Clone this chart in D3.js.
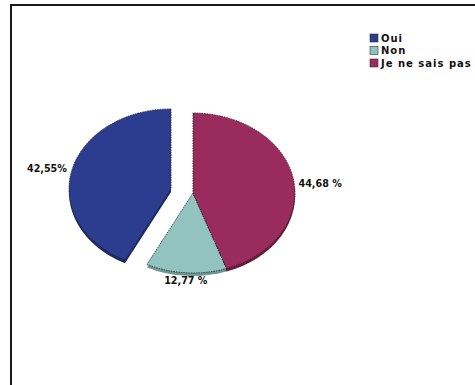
<!DOCTYPE html>
<html>
<head>
<meta charset="utf-8">
<script src="https://cdn.jsdelivr.net/npm/d3@7/dist/d3.min.js"></script>
<style>
  html, body { margin: 0; padding: 0; background: #fff; }
  svg { display: block; }
  text { font-family: "DejaVu Sans", sans-serif; font-weight: bold; fill: #111; }
</style>
</head>
<body>
<svg id="chart" width="475" height="385"></svg>
<script>
// Answers and their shares (percent)
const categories = ["Oui", "Non", "Je ne sais pas"];
const shares = [42.55, 12.77, 44.68];
const labels = ["42,55%", "12,77 %", "44,68 %"];
const colors = ["#2c3d8f", "#93c3be", "#9a2b5d"];
const sideColors = ["#1d2a66", "#6c9894", "#6a1b40"];

const svg = d3.select("#chart");

// Frame
svg.append("rect")
  .attr("x", 11).attr("y", 5)
  .attr("width", 480).attr("height", 400)
  .attr("fill", "none")
  .attr("stroke", "#1a1a1a")
  .attr("stroke-width", 2);

// Pie geometry: a circle of radius R squashed vertically into an ellipse
const cx = 193, cy = 193, R = 102, squash = 80 / 102, depth = 3;
const explode = { "Oui": 22.6 };

const pie = d3.pie().sort(null).value(d => d.v).startAngle(0).endAngle(-2 * Math.PI);
const arcs = pie(categories.map((c, i) => ({ c, v: shares[i], i })));
const arc = d3.arc().innerRadius(0).outerRadius(R);

function offset(a) {
  const mid = (a.startAngle + a.endAngle) / 2;
  const d = explode[a.data.c] || 0;
  return [Math.sin(mid) * d, -Math.cos(mid) * d];
}

const pieG = svg.append("g")
  .attr("transform", `translate(${cx},${cy}) scale(1,${squash})`);

// Slight thickness under the pie
arcs.forEach(a => {
  const [ox, oy] = offset(a);
  pieG.append("path")
    .attr("d", arc(a))
    .attr("transform", `translate(${ox},${oy + depth / squash})`)
    .attr("fill", sideColors[a.data.i]);
});

// Top faces
arcs.forEach(a => {
  const [ox, oy] = offset(a);
  pieG.append("path")
    .attr("d", arc(a))
    .attr("transform", `translate(${ox},${oy})`)
    .attr("fill", colors[a.data.i])
    .attr("stroke", "#222")
    .attr("stroke-width", 0.8)
    .attr("stroke-dasharray", "1.5,1")
    .attr("vector-effect", "non-scaling-stroke");
});

// Value labels placed just outside each slice
const labelR = 107;
arcs.forEach(a => {
  const [ox, oy] = offset(a);
  const mid = (a.startAngle + a.endAngle) / 2;
  const sx = Math.sin(mid), sy = -Math.cos(mid);
  const x = cx + ox + sx * labelR;
  let y = cy + (oy + sy * labelR) * squash;
  const anchor = Math.abs(sx) < 0.3 ? "middle" : (sx < 0 ? "end" : "start");
  if (anchor === "middle") y += depth + 1;
  if (anchor === "start") y += 5;
  svg.append("text")
    .attr("x", x).attr("y", y)
    .attr("text-anchor", anchor)
    .attr("dominant-baseline", "middle")
    .attr("font-size", "9.6px")
    .text(labels[a.data.i]);
});

// Legend
const legend = svg.append("g").attr("transform", "translate(370,34)");
categories.forEach((c, i) => {
  const row = legend.append("g").attr("transform", `translate(0,${i * 12.5})`);
  row.append("rect")
    .attr("width", 8).attr("height", 8)
    .attr("fill", colors[i])
    .attr("stroke", "#333").attr("stroke-width", 0.6);
  row.append("text")
    .attr("x", 11).attr("y", 4.5)
    .attr("dominant-baseline", "middle")
    .attr("font-size", "10px")
    .attr("letter-spacing", "1px")
    .text(c);
});
</script>
</body>
</html>
